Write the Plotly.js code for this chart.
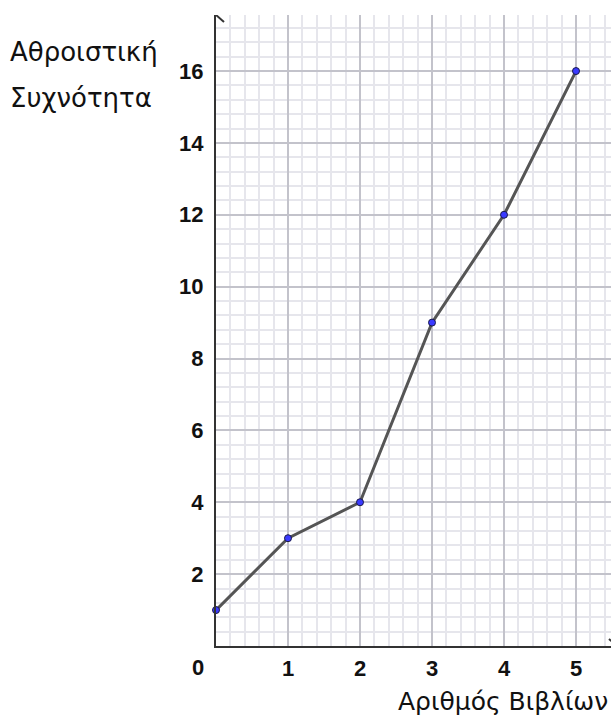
<!DOCTYPE html>
<html>
<head>
<meta charset="utf-8">
<script src="https://cdn.plot.ly/plotly-3.0.1.min.js"></script>
<style>html,body{margin:0;padding:0;background:#fff;}#chart{width:611px;height:718px;}</style>
</head>
<body>
<div id="chart"></div>
<script>
// Data
const books = [0, 1, 2, 3, 4, 5];
const cumFreq = [1, 3, 4, 9, 12, 16];
const xTickVals = [1, 2, 3, 4, 5];
const yTickVals = [2, 4, 6, 8, 10, 12, 14, 16];
const yTitleLines = ['Αθροιστική', 'Συχνότητα'];
const xTitle = 'Αριθμός Βιβλίων';

const xMax = 5.486, yMax = 17.56;
const FONT = 'Liberation Sans, Arial, sans-serif';
const TFONT = 'DejaVu Sans, sans-serif';

const trace = {
  x: books, y: cumFreq, type: 'scatter', mode: 'lines+markers',
  line: {color: '#555555', width: 3},
  marker: {size: 7, color: '#3a3aff', line: {color: '#1a1a4a', width: 1}},
  cliponaxis: false, hoverinfo: 'skip'
};

const axisCommon = {
  showline: true, linecolor: '#333333', linewidth: 2,
  zeroline: false, ticks: '', fixedrange: true,
  gridcolor: '#c3c3cb', gridwidth: 2,
  tickfont: {family: FONT, size: 22, color: '#111', weight: 'bold'}
};

const layout = {
  width: 611, height: 718,
  margin: {l: 216, r: 0, t: 15, b: 72},
  paper_bgcolor: '#ffffff', plot_bgcolor: '#ffffff',
  showlegend: false,
  xaxis: Object.assign({}, axisCommon, {
    range: [0, xMax], tickmode: 'array', tickvals: xTickVals,
    ticklabelstandoff: 2,
    minor: {tick0: 0, dtick: 0.2, showgrid: true, gridcolor: '#e6e6ec', gridwidth: 2}
  }),
  yaxis: Object.assign({}, axisCommon, {
    range: [0, yMax], tickmode: 'array', tickvals: yTickVals,
    ticklabelstandoff: 6,
    minor: {tick0: 0, dtick: 0.4, showgrid: true, gridcolor: '#e6e6ec', gridwidth: 2}
  }),
  shapes: [
    {type: 'line', xref: 'x', yref: 'y', xsizemode: 'pixel', ysizemode: 'pixel',
     xanchor: 0, yanchor: yMax, x0: 0, y0: 0, x1: -8, y1: -7, line: {color: '#333', width: 2}},
    {type: 'line', xref: 'x', yref: 'y', xsizemode: 'pixel', ysizemode: 'pixel',
     xanchor: 0, yanchor: yMax, x0: 0, y0: 0, x1: 8, y1: -7, line: {color: '#333', width: 2}},
    {type: 'line', xref: 'x', yref: 'y', xsizemode: 'pixel', ysizemode: 'pixel',
     xanchor: xMax, yanchor: 0, x0: 6, y0: 0, x1: -2, y1: 7, line: {color: '#333', width: 2}},
    {type: 'line', xref: 'x', yref: 'y', xsizemode: 'pixel', ysizemode: 'pixel',
     xanchor: xMax, yanchor: 0, x0: 6, y0: 0, x1: -2, y1: -7, line: {color: '#333', width: 2}}
  ],
  annotations: [
    {x: 0, y: 0, xref: 'x', yref: 'y', text: '0', showarrow: false,
     xanchor: 'center', yanchor: 'middle', xshift: -18, yshift: -21,
     font: {family: FONT, size: 22, color: '#111', weight: 'bold'}},
    {x: 8, y: 52, xref: 'paper', yref: 'paper', text: yTitleLines[0], showarrow: false,
     xanchor: 'left', yanchor: 'middle', font: {family: TFONT, size: 26, color: '#111'}},
    {x: 8, y: 98, xref: 'paper', yref: 'paper', text: yTitleLines[1], showarrow: false,
     xanchor: 'left', yanchor: 'middle', font: {family: TFONT, size: 26, color: '#111'}},
    {x: 610, y: 701, xref: 'paper', yref: 'paper', text: xTitle, showarrow: false,
     xanchor: 'right', yanchor: 'middle', font: {family: TFONT, size: 25, color: '#111'}}
  ]
};

const pw = 611 - 216, ph = 718 - 15 - 72;
layout.annotations.forEach(a => {
  if (a.xref === 'paper') {
    a.x = (a.x - 216) / pw;
    a.y = (718 - 72 - a.y) / ph;
  }
});

Plotly.newPlot('chart', [trace], layout, {displayModeBar: false, staticPlot: true});
</script>
</body>
</html>
